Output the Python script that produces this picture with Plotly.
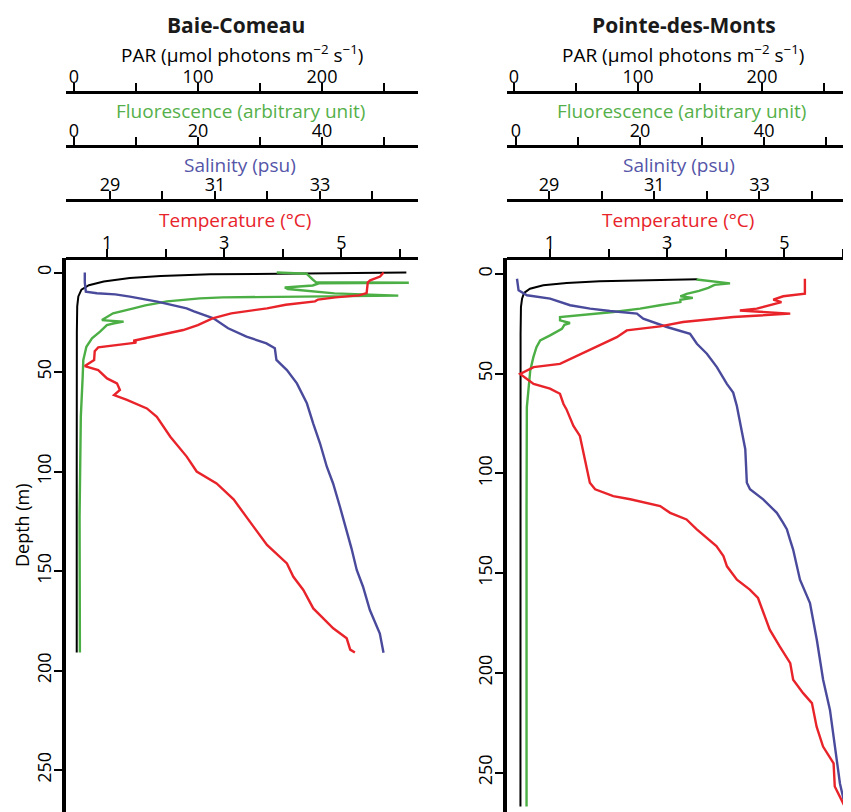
import plotly.graph_objects as go

# ---------------- data ----------------
# Baie-Comeau
bc_par_depth = [0, 0.4, 0.9, 1.8, 2.8, 4.5, 6.4, 8.6, 12, 17, 30, 100, 191]
bc_par = [268, 170, 110, 70, 45, 24, 12, 6, 3.5, 2.6, 2.3, 2.2, 2.2]

bc_fluo_depth = [0, 0.3, 0.6, 3.5, 4.8, 5.1, 5.4, 6.5, 7.5, 8.3, 9.5, 10.5, 11.6, 12.0,
                 12.5, 13.0, 13.6, 14.5, 15.5, 16.5, 18, 20.5, 23.9, 24.7, 25.5, 26.4,
                 29.7, 33.1, 37.3, 44, 52.4, 72.5, 122.7, 191]
bc_fluo = [32.7, 35, 37.5, 38.5, 39, 54, 39.5, 38.5, 34, 34.5, 38, 42, 52.3, 34,
           24, 20.3, 17.6, 15, 13.3, 11.5, 9.6, 6.3, 4.5, 8.0, 6.5, 5.3,
           4.2, 2.9, 2.0, 1.5, 1.4, 1.1, 0.9, 0.95]

bc_sal_depth = [0, 5, 9.6, 10.4, 11, 12.1, 14.6, 18, 19.5, 23, 28, 32.2, 35.6, 38.1,
                43.9, 49, 55.7, 65.7, 75.8, 85.8, 97.6, 106, 117.7, 129.4, 138.6,
                149.5, 157.9, 169.6, 181.4, 191.1]
bc_sal = [28.52, 28.52, 28.54, 28.75, 29.1, 29.38, 29.9, 30.46, 30.6, 30.97, 31.25,
          31.6, 31.98, 32.14, 32.17, 32.37, 32.56, 32.75, 32.87, 33.0, 33.13, 33.25,
          33.38, 33.51, 33.6, 33.70, 33.82, 33.95, 34.14, 34.21]

bc_temp_depth = [0, 2, 3.9, 5, 10.3, 11.5, 12.5, 13.6, 14.5, 16.2, 18, 20.5, 23, 26.4,
                 28.9, 30.6, 32.6, 34.3, 35.2, 36, 37.6, 39.5, 44, 47, 49, 53.2, 55.7,
                 59, 61.6, 64, 68.3, 72.5, 82.5, 92.5, 100, 106, 114, 127.7, 136.9,
                 146.2, 152.9, 159.5, 168.8, 173.8, 178.8, 183.8, 189.5, 191]
bc_temp = [5.72, 5.66, 5.49, 5.45, 5.43, 5.3, 4.9, 4.6, 4.55, 4.05, 3.73, 3.12, 2.8,
           2.55, 2.3, 2.02, 1.68, 1.45, 1.5, 1.3, 0.85, 0.79, 0.78, 0.62, 0.85, 1.0,
           1.17, 1.22, 1.12, 1.34, 1.68, 1.85, 2.08, 2.36, 2.53, 2.87, 3.16, 3.5, 3.73,
           4.07, 4.18, 4.35, 4.52, 4.69, 4.86, 5.09, 5.15, 5.23]

# Pointe-des-Monts
pm_par_depth = [2.7, 3.0, 3.7, 4.5, 5.7, 7.4, 9.5, 12.4, 16.6, 30, 100, 267]
pm_par = [148, 110, 69, 42.5, 23.6, 12.9, 8.1, 6.5, 5.6, 5.3, 5.2, 5.2]

pm_fluo_depth = [2.8, 3.5, 4.7, 5.5, 7.0, 8.5, 10, 11.2, 12, 13, 14.1, 15.7, 17.4, 19.1,
                 20.3, 21.6, 23.3, 24.6, 25.5, 27.5, 30.8, 33.3, 36.7, 41.7, 48.4, 58.5,
                 66.8, 120, 267]
pm_fluo = [29.1, 31.5, 34.5, 32, 31, 29.5, 27.5, 26.5, 28.5, 26.5, 26.5, 23.2, 20, 15.7,
           10.9, 7.1, 7.1, 8.7, 7.8, 7.4, 5.5, 3.9, 3.3, 2.8, 2.3, 2.0,
           1.75, 1.7, 1.7]

pm_sal_depth = [2.4, 8.2, 10.7, 12.4, 15.7, 17.4, 18.6, 19.9, 22.4, 26.6, 30, 35, 40,
                46.7, 55.1, 59.5, 66.2, 77.9, 87.9, 104.7, 108, 113, 119.8, 124.8, 128,
                133.2, 138.2, 153.3, 165, 183.4, 203.5, 218.6, 237, 255.5, 267]
pm_sal = [28.39, 28.42, 28.58, 29.02, 29.40, 29.78, 30.16, 30.67, 30.79, 31.24, 31.68,
          31.81, 32.0, 32.19, 32.38, 32.5, 32.57, 32.66, 32.73, 32.76, 32.82, 33.07,
          33.33, 33.45, 33.52, 33.58, 33.64, 33.77, 33.96, 34.09, 34.21, 34.34, 34.44,
          34.53, 34.63]

pm_temp_depth = [2.4, 9.9, 11.2, 12.9, 14.1, 17.4, 18.3, 19.9, 21.6, 24.1, 26.3, 28.3,
                 31.7, 35.8, 40.9, 45.1, 46.7, 50.1, 55.1, 57.5, 60.1, 65.2, 67.8, 76.2,
                 81.2, 94.6, 104.7, 108, 111.4, 113, 116.4, 119.8, 123.1, 128, 136.5,
                 141.5, 146.6, 153.3, 158.3, 162.5, 170, 178.4, 186.8, 195.2, 203.5,
                 210.2, 215.2, 227, 237, 245.4, 257, 267]
pm_temp = [5.35, 5.35, 4.98, 4.81, 4.95, 4.53, 4.24, 5.10, 4.13, 3.27, 2.88, 2.31,
           2.14, 1.85, 1.46, 1.17, 0.72, 0.49, 0.72, 1.0, 1.17, 1.23, 1.28, 1.40,
           1.51, 1.60, 1.68, 1.77, 2.08, 2.37, 2.88, 3.05, 3.33, 3.5, 3.84,
           3.96, 4.02, 4.19, 4.41, 4.55, 4.64, 4.75, 4.92, 5.10, 5.15,
           5.32, 5.47, 5.55, 5.66, 5.84, 5.86, 6.03]

stations = ["Baie-Comeau", "Pointe-des-Monts"]
par_ticks = [0, 100, 200]
par_minor = [50, 150, 250]
fluo_ticks = [0, 20, 40]
fluo_minor = [10, 30, 50]
sal_ticks = [29, 31, 33]
sal_minor = [30, 32, 34]
temp_ticks = [1, 3, 5]
temp_minor = [2, 4, 6]
depth_ticks = [0, 50, 100, 150, 200, 250]

# ---------------- styling / layout ----------------
OFF = 8                      # default page body margin
W, H = 851 - OFF, 812 - OFF  # figure size so that it fills the window
FONT = "'Open Sans', sans-serif"
C_PAR = "#000000"
C_FLU = "#4CAF45"
C_SAL = "#4A4A9C"
C_TMP = "#E8232A"
C_FLU_T = "#55B04A"
C_SAL_T = "#5555A8"


def fx(p):
    return (p - OFF) / W


def fy(p):
    return 1 - (p - OFF) / H


ydom = [0, fy(258)]
pos_par, pos_flu, pos_sal, pos_tmp = fy(92), fy(146), fy(200), fy(258)

panels = [
    dict(name=stations[0], dom=[fx(66), fx(418)],
         par_rng=[-6.45, 277.4], flu_rng=[-1.29, 55.48], sal_rng=[28.162, 34.867],
         tmp_rng=[0.300, 6.307], y_rng=[271.1, -7.3],
         data=[(bc_par_depth, bc_par), (bc_fluo_depth, bc_fluo),
               (bc_sal_depth, bc_sal), (bc_temp_depth, bc_temp)],
         cx=[242, 240, 240, 235], tcx=236),
    dict(name=stations[1], dom=[fx(507), 1.0],
         par_rng=[-5.65, 271.8], flu_rng=[-1.45, 54.0], sal_rng=[28.20, 34.74],
         tmp_rng=[0.266, 6.137], y_rng=[269.8, -8.0],
         data=[(pm_par_depth, pm_par), (pm_fluo_depth, pm_fluo),
               (pm_sal_depth, pm_sal), (pm_temp_depth, pm_temp)],
         cx=[683, 681, 679, 678], tcx=684),
]

fig = go.Figure()
layout = dict(width=W, height=H, margin=dict(l=0, r=0, t=0, b=0),
              paper_bgcolor="white", plot_bgcolor="white", showlegend=False,
              font=dict(family=FONT, size=18, color="black"))
annotations = []

colors = [C_PAR, C_FLU, C_SAL, C_TMP]
widths = [2.0, 2.4, 2.4, 2.4]
draw_order = [0, 2, 3, 1]

for i, p in enumerate(panels):
    base = 4 * i
    names = [f"x{base + k + 1}" if base + k > 0 else "x" for k in range(4)]
    yname = "y" if i == 0 else "y2"
    rngs = [p["par_rng"], p["flu_rng"], p["sal_rng"], p["tmp_rng"]]
    tvs = [par_ticks, fluo_ticks, sal_ticks, temp_ticks]
    mvs = [par_minor, fluo_minor, sal_minor, temp_minor]
    poss = [pos_par, pos_flu, pos_sal, pos_tmp]
    for k in range(4):
        key = "xaxis" if names[k] == "x" else "xaxis" + names[k][1:]
        ax = dict(domain=p["dom"], range=rngs[k], anchor="free", position=poss[k],
                  side="top", showline=True, linecolor="black", linewidth=2.6,
                  ticks="outside", ticklen=8, tickwidth=1.6, tickcolor="black",
                  tickmode="array", tickvals=tvs[k],
                  minor=dict(tickmode="array", tickvals=mvs[k], ticks="outside",
                             ticklen=8, tickwidth=1.6, tickcolor="black",
                             showgrid=False),
                  showgrid=False, zeroline=False,
                  automargin=False, ticklabelstandoff=-7,
                  tickfont=dict(size=18, color="black", family=FONT),
                  fixedrange=True)
        if k > 0:
            ax["overlaying"] = names[0]
        layout[key] = ax
    ykey = "yaxis" if i == 0 else "yaxis2"
    layout[ykey] = dict(domain=ydom, range=p["y_rng"], anchor=names[0],
                        showline=True, linecolor="black", linewidth=3.6,
                        ticks="outside", ticklen=8, tickwidth=1.6, tickcolor="black",
                        tickvals=depth_ticks, tickangle=-90, showgrid=False,
                        zeroline=False, automargin=False, ticklabelstandoff=-4,
                        tickfont=dict(size=18, color="black", family=FONT))
    for k in draw_order:
        d, v = p["data"][k]
        fig.add_trace(go.Scatter(x=v, y=d, mode="lines", xaxis=names[k], yaxis=yname,
                                 line=dict(color=colors[k], width=widths[k]),
                                 hoverinfo="skip"))
    # panel title
    annotations.append(dict(text=f"<b>{p['name']}</b>", x=fx(p["tcx"]), y=fy(25),
                            xref="paper", yref="paper", showarrow=False,
                            xanchor="center", yanchor="middle",
                            font=dict(size=21, color="#1a1a1a", family=FONT)))
    titles = [("PAR (μmol photons m<sup>−2</sup> s<sup>−1</sup>)", "black", 54),
              ("Fluorescence (arbitrary unit)", C_FLU_T, 111),
              ("Salinity (psu)", C_SAL_T, 165),
              ("Temperature (°C)", C_TMP, 220)]
    for (txt, col, yy), cx in zip(titles, p["cx"]):
        annotations.append(dict(text=txt, x=fx(cx), y=fy(yy), xref="paper",
                                yref="paper", showarrow=False, xanchor="center",
                                yanchor="middle",
                                font=dict(size=19, color=col, family=FONT)))

annotations.append(dict(text="Depth (m)", x=fx(22), y=fy(525), xref="paper",
                        yref="paper", showarrow=False, textangle=-90,
                        xanchor="center", yanchor="middle",
                        font=dict(size=18, color="black", family=FONT)))
layout["annotations"] = annotations
fig.update_layout(**layout)
fig.write_html("out.html")
